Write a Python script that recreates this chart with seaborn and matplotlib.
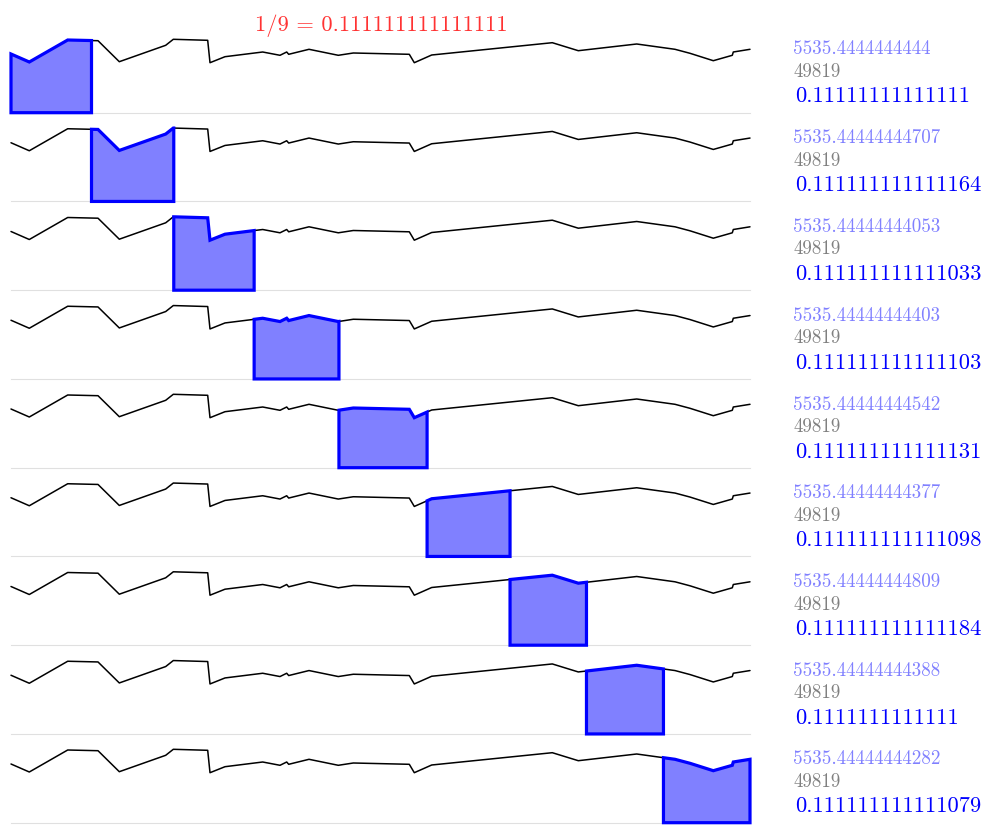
import numpy as np
import pandas as pd
import matplotlib
matplotlib.use("Agg")
import matplotlib.pyplot as plt
import seaborn as sns

# ---- data ----
x_vals = [0, 18.3, 56.7, 87, 108.3, 154.7, 162.3, 196.7, 199, 214, 251.7, 269, 275.7, 277.7,
          298, 327.3, 342.3, 398.3, 403.3, 420.7, 541.3, 567.3, 625.7, 664, 679, 702.3, 721.3,
          722.3, 739]
y_vals = [58.7, 50.7, 72.7, 72.0, 51.0, 67.4, 73.4, 72.4, 50.0, 56.0, 60.7, 57.4, 60.7, 58.4,
          63.4, 57.4, 59.7, 58.4, 50.0, 57.7, 70.0, 62.0, 68.7, 63.4, 59.4, 52.0, 57.4, 60.7, 63.4]

n_parts = 9
title_text = "1/9 = 0.111111111111111"
area_labels = ["5535.4444444444", "5535.44444444707", "5535.44444444053", "5535.44444444403",
               "5535.44444444542", "5535.44444444377", "5535.44444444809", "5535.44444444388",
               "5535.44444444282"]
total_label = "49819"
ratio_labels = ["0.11111111111111", "0.111111111111164", "0.111111111111033", "0.111111111111103",
                "0.111111111111131", "0.111111111111098", "0.111111111111184", "0.1111111111111",
                "0.111111111111079"]

df = pd.DataFrame({"x": x_vals, "y": y_vals})

# equal-area split positions
xf = np.linspace(min(x_vals), max(x_vals), 20001)
yf = np.interp(xf, x_vals, y_vals)
cum = np.concatenate([[0], np.cumsum((yf[1:] + yf[:-1]) / 2 * np.diff(xf))])
targets = cum[-1] * np.arange(n_parts + 1) / n_parts
splits = np.interp(targets, cum, xf)
splits[0], splits[-1] = min(x_vals), max(x_vals)

sns.set_theme(style="white")
plt.rcParams["font.family"] = ["cmr10", "DejaVu Serif"]
plt.rcParams["mathtext.fontset"] = "cm"

W, H = 997, 834
fig = plt.figure(figsize=(W / 100, H / 100), dpi=100)

left_px, right_px = 11, 750
base0, top0, step = 112.7, 39.3, 88.75
ymax = max(y_vals)

for i in range(n_parts):
    base = base0 + i * step
    top = top0 + i * step
    ax = fig.add_axes([left_px / W, 1 - base / H, (right_px - left_px) / W, (base - top) / H])
    a, b = splits[i], splits[i + 1]
    inner = [(xx, yy) for xx, yy in zip(x_vals, y_vals) if a < xx < b]
    px = [a] + [p[0] for p in inner] + [b]
    py = [np.interp(a, x_vals, y_vals)] + [p[1] for p in inner] + [np.interp(b, x_vals, y_vals)]
    poly_x = [a] + px + [b]
    poly_y = [0] + py + [0]
    ax.fill(poly_x, poly_y, facecolor="#8080ff", edgecolor="#0000ff", linewidth=2.3,
            joinstyle="miter", clip_on=False, zorder=3)
    sns.lineplot(data=df, x="x", y="y", ax=ax, color="black", linewidth=1.1,
                 estimator=None, sort=False, zorder=2)
    for ln in ax.lines:
        ln.set_clip_on(False)
    ax.set_xlim(min(x_vals), max(x_vals))
    ax.set_ylim(0, ymax)
    ax.set_xticks([])
    ax.set_yticks([])
    ax.set_xlabel("")
    ax.set_ylabel("")
    for s in ["top", "left", "right"]:
        ax.spines[s].set_visible(False)
    ax.spines["bottom"].set_color("#e0e0e0")
    ax.spines["bottom"].set_linewidth(0.8)
    ax.spines["bottom"].set_zorder(1)
    ax.patch.set_alpha(0)

    fig.text(793 / W, 1 - (54.5 + i * step) / H, area_labels[i], color="#8080ff",
             fontsize=13.7, va="baseline", ha="left")
    fig.text(793 / W, 1 - (77 + i * step) / H, total_label, color="#808080",
             fontsize=13.7, va="baseline", ha="left")
    fig.text(795 / W, 1 - (102.5 + i * step) / H, ratio_labels[i], color="#0000ff",
             fontsize=16.2, va="baseline", ha="left")

fig.text(381 / W, 1 - 30.7 / H, title_text, color="#ff3333", fontsize=16.2,
         va="baseline", ha="center")

fig.savefig("out.png", dpi=100, facecolor="white")
